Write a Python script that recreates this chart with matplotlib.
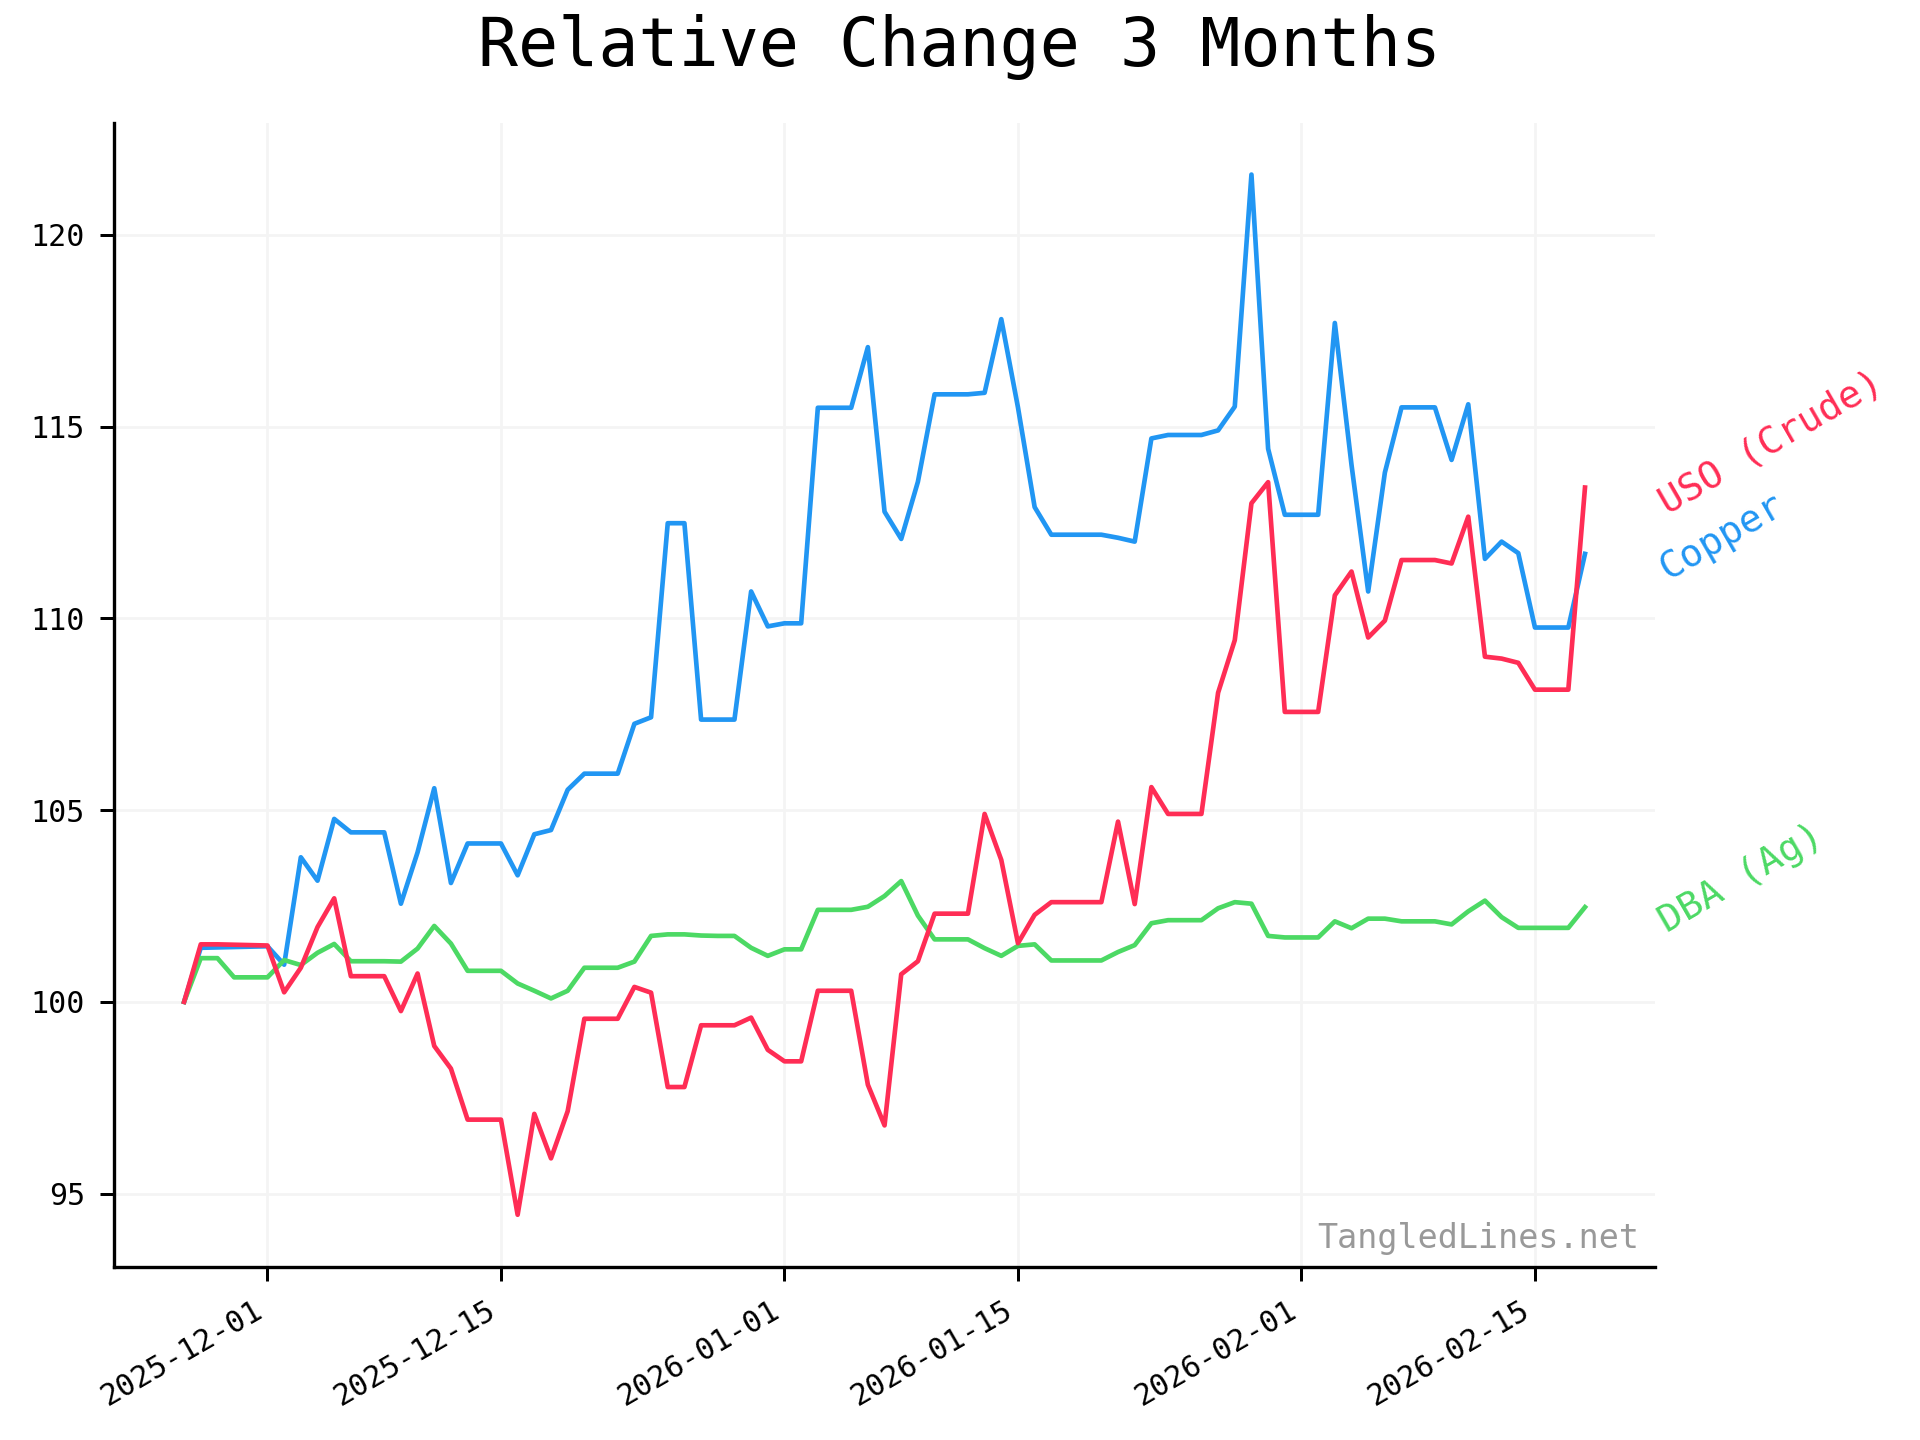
import matplotlib
matplotlib.use("Agg")
import matplotlib.pyplot as plt
import matplotlib.dates as mdates
import pandas as pd

plt.rcParams['font.family'] = ['DejaVu Sans Mono']

# daily values, 2025-11-26 .. 2026-02-18 (weekends carried forward)
dates = pd.date_range("2025-11-26", "2026-02-18", freq="D")

copper = [100.0, 101.41, 101.42, 101.43, 101.44, 101.45, 100.97, 103.77, 103.16, 104.77,
          104.42, 104.42, 104.42, 102.56, 103.9, 105.57, 103.1, 104.13, 104.13, 104.13,
          103.3, 104.37, 104.48, 105.53, 105.95, 105.95, 105.95, 107.25, 107.42, 112.48,
          112.48, 107.36, 107.36, 107.36, 110.7, 109.79, 109.87, 109.87, 115.49, 115.49,
          115.49, 117.07, 112.78, 112.07, 113.56, 115.84, 115.84, 115.84, 115.88, 117.8,
          115.5, 112.9, 112.18, 112.18, 112.18, 112.18, 112.1, 112.0, 114.69, 114.78,
          114.78, 114.78, 114.9, 115.52, 121.57, 114.42, 112.7, 112.7, 112.7, 117.7,
          114.0, 110.7, 113.8, 115.5, 115.5, 115.5, 114.13, 115.58, 111.55, 112.0,
          111.7, 109.76, 109.76, 109.76, 111.68]

uso = [100.0, 101.5, 101.5, 101.49, 101.48, 101.47, 100.25, 100.89, 101.95, 102.7,
       100.67, 100.67, 100.67, 99.76, 100.74, 98.85, 98.26, 96.93, 96.93, 96.93,
       94.45, 97.08, 95.92, 97.15, 99.56, 99.56, 99.56, 100.39, 100.24, 97.78,
       97.78, 99.39, 99.39, 99.39, 99.59, 98.75, 98.45, 98.45, 100.29, 100.29,
       100.29, 97.84, 96.78, 100.72, 101.06, 102.3, 102.3, 102.3, 104.9, 103.7,
       101.53, 102.27, 102.6, 102.6, 102.6, 102.6, 104.7, 102.55, 105.6, 104.9,
       104.9, 104.9, 108.06, 109.43, 113.0, 113.55, 107.56, 107.56, 107.56, 110.6,
       111.22, 109.5, 109.94, 111.52, 111.52, 111.52, 111.43, 112.65, 109.0, 108.95,
       108.84, 108.14, 108.14, 108.14, 113.41]

dba = [100.0, 101.14, 101.14, 100.64, 100.64, 100.64, 101.09, 100.96, 101.28, 101.51,
       101.06, 101.06, 101.06, 101.05, 101.39, 101.98, 101.52, 100.81, 100.81, 100.81,
       100.48, 100.29, 100.09, 100.29, 100.89, 100.89, 100.89, 101.05, 101.72, 101.76,
       101.76, 101.73, 101.72, 101.72, 101.41, 101.2, 101.37, 101.37, 102.4, 102.4,
       102.4, 102.48, 102.76, 103.15, 102.25, 101.63, 101.63, 101.63, 101.4, 101.2,
       101.46, 101.5, 101.08, 101.08, 101.08, 101.08, 101.3, 101.48, 102.05, 102.13,
       102.13, 102.13, 102.44, 102.6, 102.56, 101.72, 101.68, 101.68, 101.68, 102.1,
       101.92, 102.17, 102.17, 102.1, 102.1, 102.1, 102.02, 102.36, 102.64, 102.21,
       101.93, 101.93, 101.93, 101.93, 102.47]

series = [("Copper", copper, "#2196F3"),
          ("DBA (Ag)", dba, "#4CD964"),
          ("USO (Crude)", uso, "#FF2D55")]

fig = plt.figure(figsize=(8, 6), dpi=240)
ax = fig.add_axes([0.0594, 0.1203, 0.8026, 0.7946])

for name, vals, col in series:
    ax.plot(dates, vals, color=col, lw=1.4)
    # label just right of the axes, level with the last value
    ax.annotate(name, xy=(1.0, vals[-1]), xycoords=("axes fraction", "data"),
                xytext=(2.2, -5.3), textcoords="offset points",
                rotation=30, rotation_mode="anchor", ha="left", va="center",
                color=col, fontsize=11.4, annotation_clip=False)

ax.xaxis.set_major_locator(mdates.DayLocator(bymonthday=[1, 15]))
ax.xaxis.set_major_formatter(mdates.DateFormatter("%Y-%m-%d"))
plt.setp(ax.get_xticklabels(), rotation=30, ha="right")

ax.grid(True, color="#f4f4f4", lw=0.8)
ax.set_axisbelow(True)
for s in ["top", "right"]:
    ax.spines[s].set_visible(False)
for s in ["left", "bottom"]:
    ax.spines[s].set_linewidth(1.0)
ax.tick_params(length=4.2, width=0.9, pad=4.5, labelsize=9)

ax.text(0.99, 0.01, "TangledLines.net", transform=ax.transAxes,
        ha="right", va="bottom", color="#999999", fontsize=10)

fig.text(0.5, 0.954, "Relative Change 3 Months", ha="center", va="baseline",
         fontsize=20)

fig.savefig("out.png", dpi=240)
